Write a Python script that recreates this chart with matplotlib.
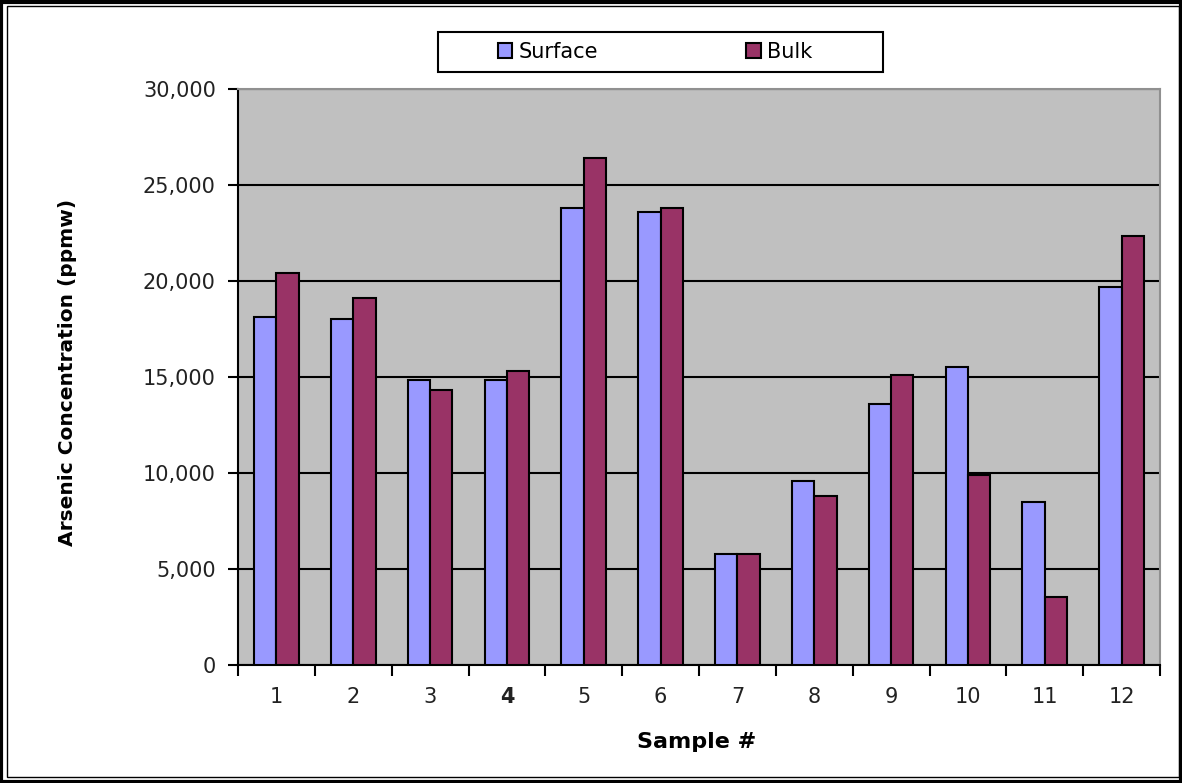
import numpy as np
import matplotlib
matplotlib.use("Agg")
import matplotlib.pyplot as plt
from matplotlib.patches import Rectangle

samples = ["1", "2", "3", "4", "5", "6", "7", "8", "9", "10", "11", "12"]
surface = [18100, 18000, 14850, 14850, 23800, 23600, 5780, 9580, 13600, 15500, 8470, 19700]
bulk = [20400, 19100, 14300, 15300, 26400, 23800, 5780, 8800, 15100, 9900, 3560, 22350]
yticks = [0, 5000, 10000, 15000, 20000, 25000, 30000]

fig = plt.figure(figsize=(11.82, 7.83), dpi=100)
ax = fig.add_axes([238 / 1182, 1 - 665 / 783, 922 / 1182, 576 / 783])
ax.set_facecolor("#C0C0C0")

x = np.arange(len(samples))
w = 0.29
ax.bar(x - w / 2, surface, w, color="#9999FF", edgecolor="black", linewidth=1.5,
       label="Surface", zorder=3)
ax.bar(x + w / 2, bulk, w, color="#993366", edgecolor="black", linewidth=1.5,
       label="Bulk", zorder=3)

ax.set_xlim(-0.5, len(samples) - 0.5)
ax.set_ylim(0, 30000)
ax.set_yticks(yticks)
ax.set_yticklabels([f"{v:,}" for v in yticks], fontsize=15, color="#222222")
ax.yaxis.grid(True, color="black", linewidth=1.5, zorder=1)
ax.set_axisbelow(True)

# ticks between categories, labels centred under groups
ax.set_xticks(np.arange(len(samples) + 1) - 0.5)
ax.set_xticklabels([])
ax.set_xticks(x, minor=True)
ax.set_xticklabels(samples, minor=True, fontsize=15, color="#222222")
ax.tick_params(axis="x", which="minor", length=0, pad=16)
ax.tick_params(axis="x", which="major", length=8, width=1.5, direction="out")
ax.tick_params(axis="y", length=7, width=1.5, direction="out", pad=9)
for lab in ax.get_xticklabels(minor=True):
    if lab.get_text() == "4":
        lab.set_fontweight("bold")

for side in ["left", "bottom"]:
    ax.spines[side].set_linewidth(1.5)
    ax.spines[side].set_color("black")
for side in ["top", "right"]:
    ax.spines[side].set_linewidth(1.5)
    ax.spines[side].set_color("#909090")

fig.text(68 / 1182, 1 - 372 / 783, "Arsenic Concentration (ppmw)", rotation=90,
         ha="center", va="center", fontsize=14.5, fontweight="bold")
fig.text(697 / 1182, 1 - 742 / 783, "Sample #", ha="center", va="center",
         fontsize=16, fontweight="bold")

# legend box drawn separately so it can be as wide as the original
fig.patches.append(Rectangle((438 / 1182, 1 - 72 / 783), 445 / 1182, 40 / 783,
                             transform=fig.transFigure, facecolor="white",
                             edgecolor="black", linewidth=1.5, zorder=1))
fig.legend(loc="center", bbox_to_anchor=(655 / 1182, 1 - 52 / 783), ncol=2,
           fontsize=15, frameon=False,
           handlelength=0.7, handleheight=0.7, handletextpad=0.3,
           columnspacing=7.1, borderaxespad=0)

# double border round the picture
fig.patches.append(Rectangle((1.5 / 1182, 1.5 / 783), 1 - 3 / 1182, 1 - 3 / 783,
                             transform=fig.transFigure, fill=False,
                             edgecolor="black", linewidth=3))
fig.patches.append(Rectangle((7 / 1182, 6 / 783), 1 - 10 / 1182, 1 - 12 / 783,
                             transform=fig.transFigure, fill=False,
                             edgecolor="black", linewidth=1))

fig.savefig("out.png", dpi=100, facecolor="white")
